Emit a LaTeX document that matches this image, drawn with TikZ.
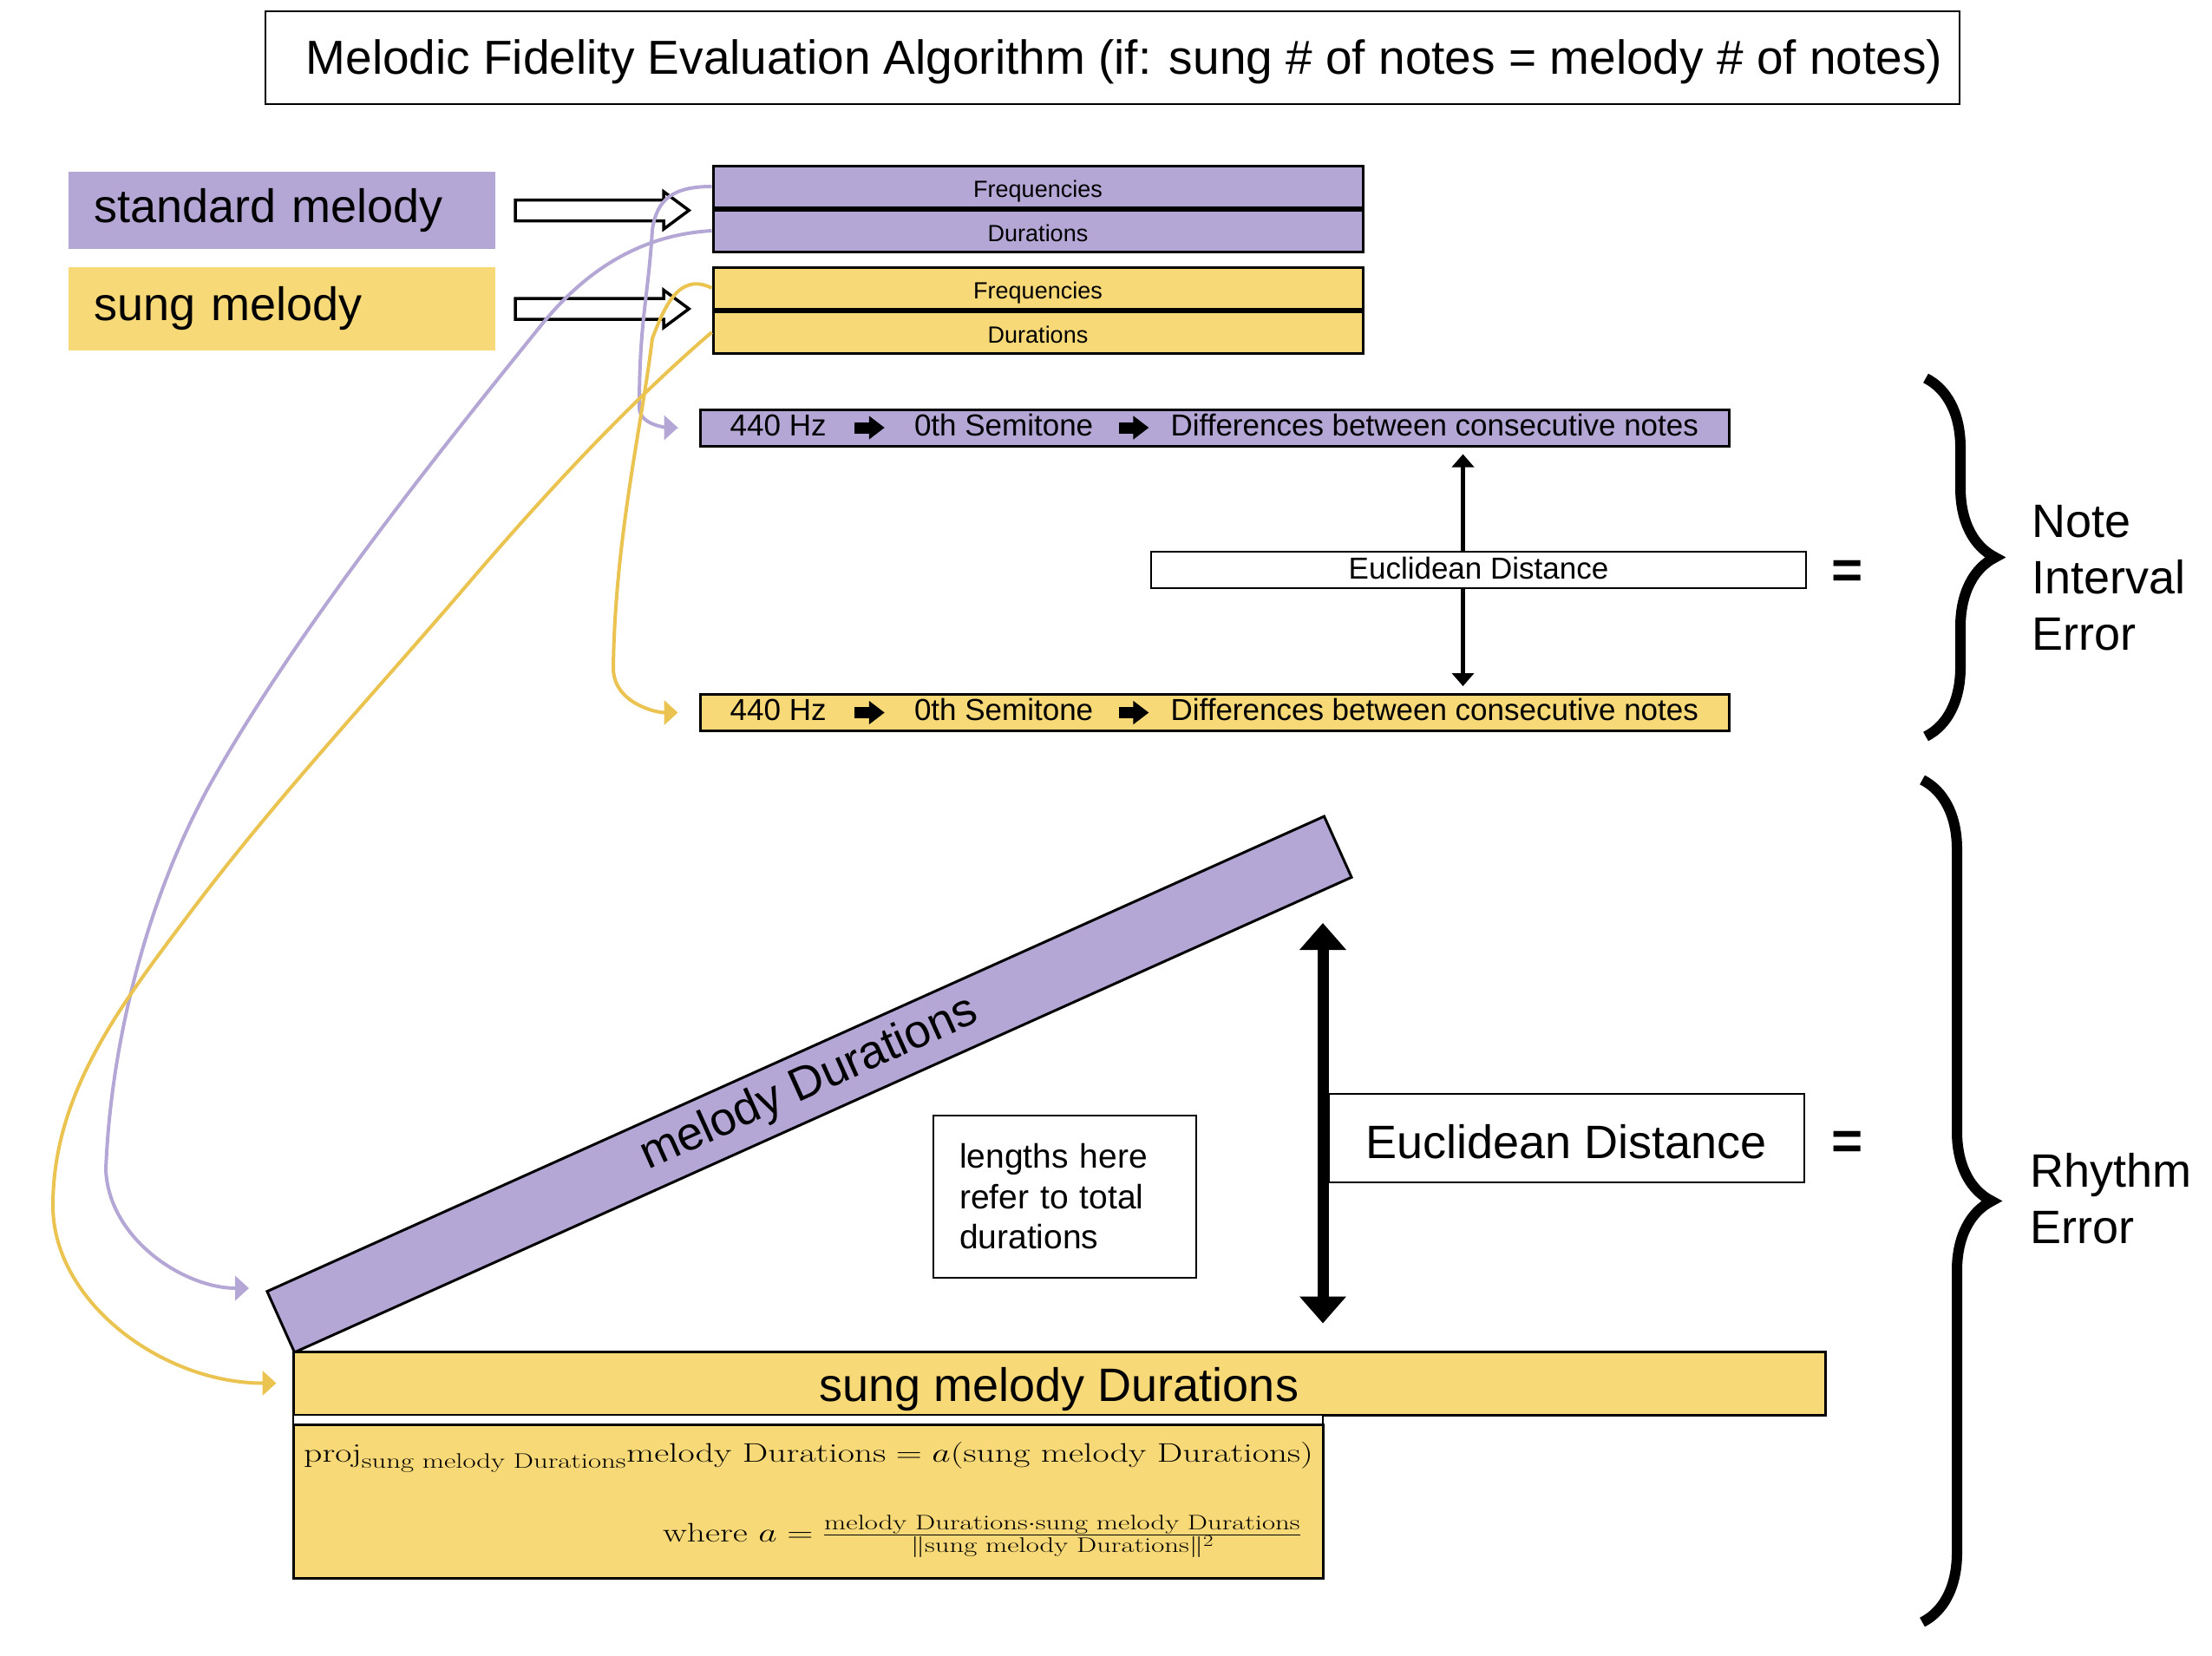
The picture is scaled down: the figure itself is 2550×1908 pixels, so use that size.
\RequirePackage{fix-cm}
\documentclass[tikz,border=0pt]{standalone}
\usepackage{amsmath}
\usepackage{graphicx}
\usepackage{fontspec}
\newfontfamily\arial{Liberation Sans}
\usetikzlibrary{arrows.meta,positioning,calc,decorations.pathreplacing}
\DeclareMathSizes{41.7}{41.7}{32.7}{25}

\definecolor{stdcol}{HTML}{B4A7D6}
\definecolor{sungcol}{HTML}{F8D978}
\definecolor{stdline}{HTML}{B4A7D6}
\definecolor{sungline}{HTML}{EAC350}

\tikzset{
  lblbox/.style={font=\arial\fontsize{54}{64}\selectfont, text width=434pt, align=left, inner xsep=29pt, inner ysep=0pt},
  databox/.style={draw, line width=3pt, minimum width=749pt, minimum height=48pt, inner sep=0pt, text height=24pt, text depth=0pt, font=\arial\fontsize{27}{32}\selectfont},
  semibar/.style={draw, line width=3pt, minimum width=1186pt, minimum height=42pt, inner sep=0pt},
  bartext/.style={inner sep=0pt, font=\arial\fontsize{35}{42}\selectfont, text height=25pt, text depth=7pt},
  blockarrow/.style={line width=13pt, -{Triangle[length=18pt,width=26pt]}},
  hollow/.style={draw, line width=3.5pt, fill=white, line join=miter},
  link/.style={line width=4pt, -{Triangle[length=16pt,width=28pt]}},
  distbox/.style={draw, line width=2.5pt, fill=white, inner sep=0pt, text depth=0pt},
  thinboth/.style={line width=5pt, -{Triangle[length=15pt,width=25pt]}},
  bigboth/.style={line width=13pt, {Triangle[length=31pt,width=52pt]}-{Triangle[length=31pt,width=52pt]}},
  errbrace/.style={decorate, decoration={brace, amplitude=80pt}, line width=12pt},
  errtext/.style={font=\arial\fontsize{54}{65}\selectfont, align=left, anchor=north west, inner sep=0pt},
  eqsign/.style={font=\arial\bfseries\fontsize{62}{70}\selectfont, inner sep=0pt},
  mathtext/.style={inner sep=0pt, font=\fontsize{41.7}{50}\selectfont}
}

\begin{document}
\begin{tikzpicture}[x=1pt, y=-1pt]

\useasboundingbox (0,0) rectangle (2550,1908);

%Titre
\node[draw, line width=2.5pt, minimum width=1953pt, minimum height=107pt, text height=39pt, text depth=0pt, font=\arial\fontsize{55}{66}\selectfont] (title) at (1282.5,66.5) {\hspace*{27pt}Melodic Fidelity Evaluation Algorithm (if: sung \# of notes = melody \# of notes)};

%Melodies
\node[lblbox, fill=stdcol, minimum height=89pt] (stdlbl) at (325,242.5) {standard melody};
\node[lblbox, fill=sungcol, minimum height=96pt] (sunglbl) at (325,356) {sung melody};

\node[databox, fill=stdcol] (stdfreq) at (1196.5,215) {Frequencies};
\node[databox, fill=stdcol, below=0pt of stdfreq] (stddur) {Durations};
\node[databox, fill=sungcol] (sungfreq) at (1196.5,332) {Frequencies};
\node[databox, fill=sungcol, below=0pt of sungfreq] (sungdur) {Durations};

\draw[hollow] ($(stdlbl.east)+(23,-12)$) -- ++(171,0) -- ++(0,-9.5) -- ++(29,21.5) -- ++(-29,21.5) -- ++(0,-9.5) -- ++(-171,0) -- cycle;
\draw[hollow] ($(sunglbl.east)+(23,-12)$) -- ++(171,0) -- ++(0,-9.5) -- ++(29,21.5) -- ++(-29,21.5) -- ++(0,-9.5) -- ++(-171,0) -- cycle;

%Intervalles
\node[semibar, fill=stdcol] (stdbar) at (1400,493) {};
\node[bartext, anchor=west] (stdhz) at ([xshift=36pt]stdbar.west) {440 Hz};
\node[bartext, right=101pt of stdhz] (stdsemi) {0th Semitone};
\node[bartext, right=89pt of stdsemi] (stddiff) {Differences between consecutive notes};
\draw[blockarrow, shorten <=32pt, shorten >=34pt] (stdhz.east) -- (stdsemi.west);
\draw[blockarrow, shorten <=30pt, shorten >=25pt] (stdsemi.east) -- (stddiff.west);

\node[semibar, fill=sungcol] (sungbar) at (1400,821.5) {};
\node[bartext, anchor=west] (sunghz) at ([xshift=36pt]sungbar.west) {440 Hz};
\node[bartext, right=101pt of sunghz] (sungsemi) {0th Semitone};
\node[bartext, right=89pt of sungsemi] (sungdiff) {Differences between consecutive notes};
\draw[blockarrow, shorten <=32pt, shorten >=34pt] (sunghz.east) -- (sungsemi.west);
\draw[blockarrow, shorten <=30pt, shorten >=25pt] (sungsemi.east) -- (sungdiff.west);

\node[distbox, minimum width=755pt, minimum height=42pt, text height=20pt, font=\arial\fontsize{35}{42}\selectfont] (eusmall) at (1704.5,657) {Euclidean Distance};
\draw[thinboth, shorten >=8pt] ([xshift=-18pt]eusmall.north) -- ([xshift=-18pt]eusmall.north |- stdbar.south);
\draw[thinboth, shorten >=8pt] ([xshift=-18pt]eusmall.south) -- ([xshift=-18pt]eusmall.south |- sungbar.north);
\node[eqsign] (eqnote) at (2130,662) {=};

\draw[errbrace] (2220,436) -- (2220,849);
\node[errtext] (noteerr) at (2342,582) {Note\\Interval\\Error};

%Rythme
\node[rotate=24.2, draw, line width=3pt, fill=stdcol, minimum width=1336pt, minimum height=77pt, inner sep=0pt, font=\arial\fontsize{54}{64}\selectfont] (melbar) at (933,1250) {melody Durations};
\node[draw, line width=3pt, fill=sungcol, minimum width=1766pt, minimum height=73pt, inner sep=0pt, text height=41pt, text depth=0pt, font=\arial\fontsize{54}{64}\selectfont] (sungdurbar) at (1221,1594.5) {sung melody Durations};

\node[draw, line width=2.5pt, text width=243pt, align=left, inner xsep=30pt, minimum height=187pt, font=\arial\fontsize{39}{46.5}\selectfont] (lennote) at (1227.5,1379.5) {lengths here refer to total durations};

\coordinate (gaptop) at (1525,1064);
\draw[bigboth, shorten >=31pt] (gaptop) -- (gaptop |- sungdurbar.north);
\node[distbox, minimum width=548pt, minimum height=102pt, text height=46pt, font=\arial\fontsize{54}{64}\selectfont] (eubig) at (1806,1312) {Euclidean Distance};
\node[eqsign] (eqrhythm) at (2130,1320) {=};

\draw[errbrace] (2216,899) -- (2216,1870);
\node[errtext] (rhythmerr) at (2340,1329) {Rhythm\\Error};

%Projection
\node[draw, line width=2.5pt, fill=white, minimum width=1187pt, minimum height=189pt, inner sep=0pt] (formbox) at (931.5,1725.5) {};
\node[draw, line width=3pt, fill=sungcol, minimum width=1187pt, minimum height=177pt, inner sep=0pt, anchor=south] (formfill) at (formbox.south) {};
\node[mathtext, anchor=base west] (projeq) at (350,1685) {\scalebox{1}[0.74]{$\mathrm{proj}_{\text{sung melody Durations}}\text{melody Durations} = a(\text{sung melody Durations})$}};
\node[mathtext, anchor=base east] (wherea) at (1500,1777) {\scalebox{1}[0.74]{$\text{where } a = \frac{\text{melody Durations}\cdot\text{sung melody Durations}}{\|\text{sung melody Durations}\|^2}$}};

%Liens
\coordinate (melin) at (287,1485);
\draw[link, stdline, shorten >=24pt] (stdfreq.west) .. controls +(-45,0) and +(5,-35) .. (752,265) .. controls +(-5,80) and +(0,-100) .. (737,470) .. controls +(0,22) and +(-30,0) .. (stdbar.west);
\draw[link, sungline, shorten >=24pt] (sungfreq.west) .. controls +(-40,-20) and +(12,-30) .. (752,390) .. controls +(-12,100) and +(2,-150) .. (707,770) .. controls +(0,40) and +(-50,0) .. (sungbar.west);
\draw[link, stdline] (stddur.west) .. controls +(-90,5) and +(45,-56) .. (623,376) .. controls +(-126,156) and +(98,-174) .. (244,901) .. controls +(-73,130) and +(6,-150) .. (122,1348) .. controls +(3,80) and +(-75,0) .. (melin);
\draw[link, sungline, shorten >=18pt] (sungdur.west) .. controls +(-99,85) and +(85,-99) .. (542,670) .. controls +(-110,129) and +(102,-136) .. (217,1055) .. controls +(-78,104) and +(0,-130) .. (61,1390) .. controls +(0,110) and +(-150,0) .. (sungdurbar.west);

\end{tikzpicture}
\end{document}
